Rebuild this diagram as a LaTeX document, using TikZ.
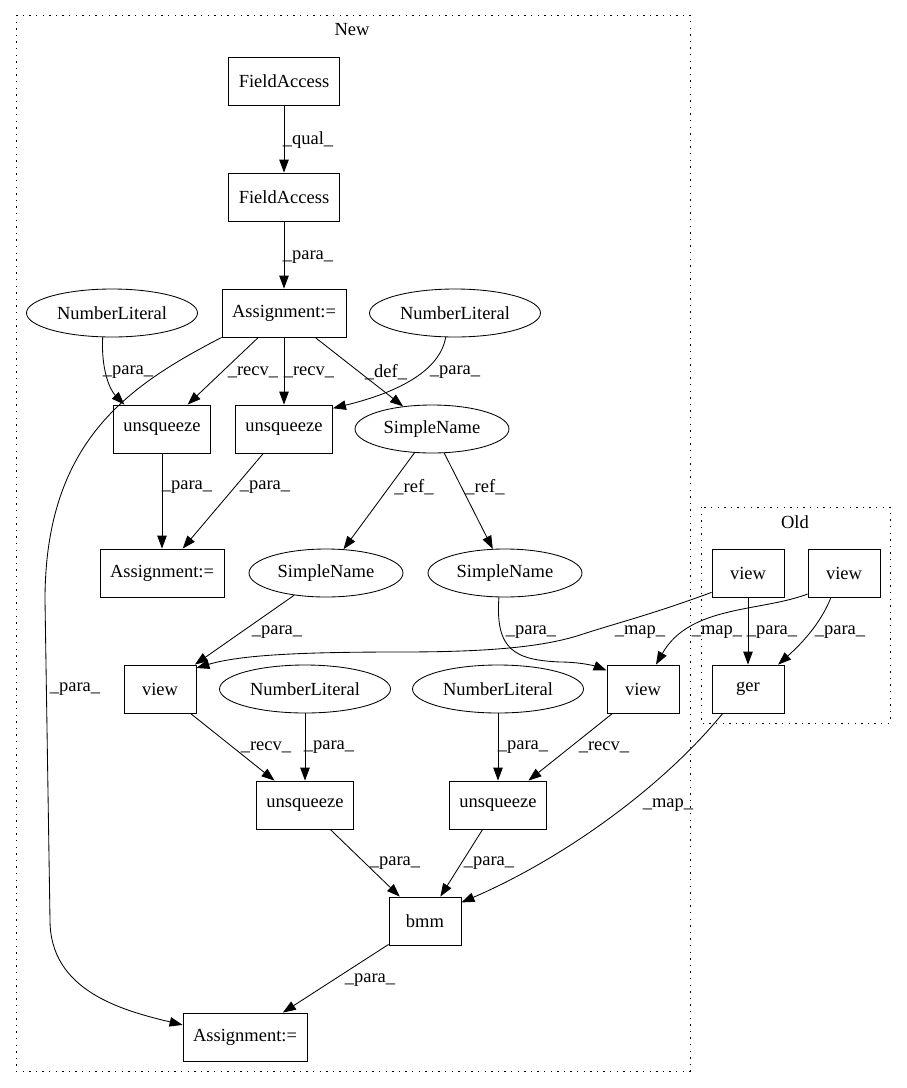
\documentclass[tikz,border=0pt]{standalone}
\usepackage{fontspec}
\setmainfont{Liberation Serif}
\usetikzlibrary{shapes.geometric, arrows.meta, calc}

\begin{document}
\begin{tikzpicture}[
  x=1pt, y=-1pt,
  font=\fontsize{18.5}{22}\selectfont,
  box/.style={rectangle, draw, line width=0.85pt, minimum width=72pt, minimum height=48pt, inner xsep=10pt, align=center},
  oval/.style={ellipse, draw, line width=0.85pt, minimum height=48pt, inner sep=0pt},
  lbl/.style={inner sep=0pt},
  arr/.style={-{Triangle[length=13pt, width=9.5pt]}, line width=0.85pt},
  cluster/.style={draw, line width=1pt, dash pattern=on 1.4pt off 5.2pt}
]
  \useasboundingbox (0,0) rectangle (907,1088);
  % Clusters
  \draw[cluster] (16,15) rectangle (690,1071);
  \node (tnew) at (352,30) {New};
  \draw[cluster] (701,507) rectangle (890,723);
  \node (told) at (795,522) {Old};
  % New: upper part
  \node[box] (fa1) at (284,81) {FieldAccess};
  \node[box] (fa2) at (284,197) {FieldAccess};
  \node[box] (asg1) at (284,313) {Assignment:=};
  \node[oval, minimum width=171pt] (nlA) at (112,313) {NumberLiteral};
  \node[oval, minimum width=171pt] (nlB) at (455,313) {NumberLiteral};
  \node[box] (usqA) at (162,429) {unsqueeze};
  \node[box] (usqB) at (284,429) {unsqueeze};
  \node[oval, minimum width=154pt] (snA) at (432,429) {SimpleName};
  \node[box] (asg2) at (162,573) {Assignment:=};
  \node[oval, minimum width=154pt] (snB) at (326,573) {SimpleName};
  \node[oval, minimum width=154pt] (snC) at (505,573) {SimpleName};
  % New: lower part
  \node[box] (viewA) at (160,689) {view};
  \node[oval, minimum width=171pt] (nlC) at (305,689) {NumberLiteral};
  \node[oval, minimum width=171pt] (nlD) at (498,689) {NumberLiteral};
  \node[box] (viewB) at (643,689) {view};
  \node[box] (usqC) at (305,805) {unsqueeze};
  \node[box] (usqD) at (498,805) {unsqueeze};
  \node[box] (bmm) at (425,921) {bmm};
  \node[box] (asg3) at (245,1037) {Assignment:=};
  % Old
  \node[box] (oview1) at (748,573) {view};
  \node[box] (oview2) at (844,573) {view};
  \node[box] (ger) at (748,689) {ger};
  % Edges in New
  \draw[arr] (fa1) -- (fa2);
  \node[lbl] (lqual) at (308,140) {\_qual\_};
  \draw[arr] (fa2) -- (asg1);
  \node[lbl] (lpara1) at (308,257) {\_para\_};
  \draw[arr] (nlA.249) .. controls (101,370) and (110,390) .. (usqA.147);
  \node[lbl] (lpara2) at (128,372) {\_para\_};
  \draw[arr] (asg1) -- (usqA);
  \node[lbl] (lrecv1) at (253,372) {\_recv\_};
  \draw[arr] (asg1) -- (usqB);
  \node[lbl] (lrecv2) at (309,372) {\_recv\_};
  \draw[arr] (asg1) -- (snA);
  \node[lbl] (ldef) at (386,372) {\_def\_};
  \draw[arr] (nlB.249) .. controls (440,370) and (400,392) .. (usqB.23);
  \node[lbl] (lpara3) at (455,372) {\_para\_};
  \draw[arr] (asg1.south west) .. controls (130,385) and (45,440) .. (45,600) -- (50,920) .. controls (50,990) and (120,1010) .. (asg3.169);
  \node[lbl] (lpara4) at (75,689) {\_para\_};
  \draw[arr] (usqA) -- (asg2);
  \node[lbl] (lpara5) at (187,487) {\_para\_};
  \draw[arr] (usqB) -- (asg2);
  \node[lbl] (lpara6) at (265,487) {\_para\_};
  \draw[arr] (snA) -- (snB);
  \node[lbl] (lref1) at (414,487) {\_ref\_};
  \draw[arr] (snA) -- (snC);
  \node[lbl] (lref2) at (485,487) {\_ref\_};
  \draw[arr] (snB) -- (viewA);
  \node[lbl] (lpara7) at (277,632) {\_para\_};
  \draw[arr] (snC.256) .. controls (495,650) and (515,660) .. (560,662) .. controls (580,662) and (595,666) .. (viewB.153);
  \node[lbl] (lpara8) at (531,632) {\_para\_};
  \draw[arr] (viewA) -- (usqC);
  \node[lbl] (lrecv3) at (266,747) {\_recv\_};
  \draw[arr] (nlC) -- (usqC);
  \node[lbl] (lpara9) at (329,747) {\_para\_};
  \draw[arr] (nlD) -- (usqD);
  \node[lbl] (lpara10) at (523,747) {\_para\_};
  \draw[arr] (viewB) -- (usqD);
  \node[lbl] (lrecv4) at (604,747) {\_recv\_};
  \draw[arr] (usqC) -- (bmm);
  \node[lbl] (lpara11) at (395,863) {\_para\_};
  \draw[arr] (usqD) -- (bmm);
  \node[lbl] (lpara12) at (489,863) {\_para\_};
  \draw[arr] (bmm) -- (asg3);
  \node[lbl] (lpara13) at (370,980) {\_para\_};
  % Edges from Old
  \draw[arr] (oview1.208) .. controls (650,615) and (620,622) .. (580,635) .. controls (540,648) and (480,652) .. (400,652) .. controls (300,652) and (240,655) .. (viewA.30);
  \node[lbl] (lmap1) at (640,632) {\_map\_};
  \draw[arr] (oview2.210) .. controls (760,612) and (690,605) .. (viewB.62);
  \node[lbl] (lmap2) at (717,632) {\_map\_};
  \draw[arr] (oview1) -- (ger);
  \node[lbl] (lpara14) at (772,632) {\_para\_};
  \draw[arr] (oview2.242) .. controls (820,625) and (800,645) .. (ger.39);
  \node[lbl] (lpara15) at (840,632) {\_para\_};
  \draw[arr] (ger.224) .. controls (660,790) and (560,860) .. (bmm.27);
  \node[lbl] (lmap3) at (668,805) {\_map\_};
\end{tikzpicture}
\end{document}
